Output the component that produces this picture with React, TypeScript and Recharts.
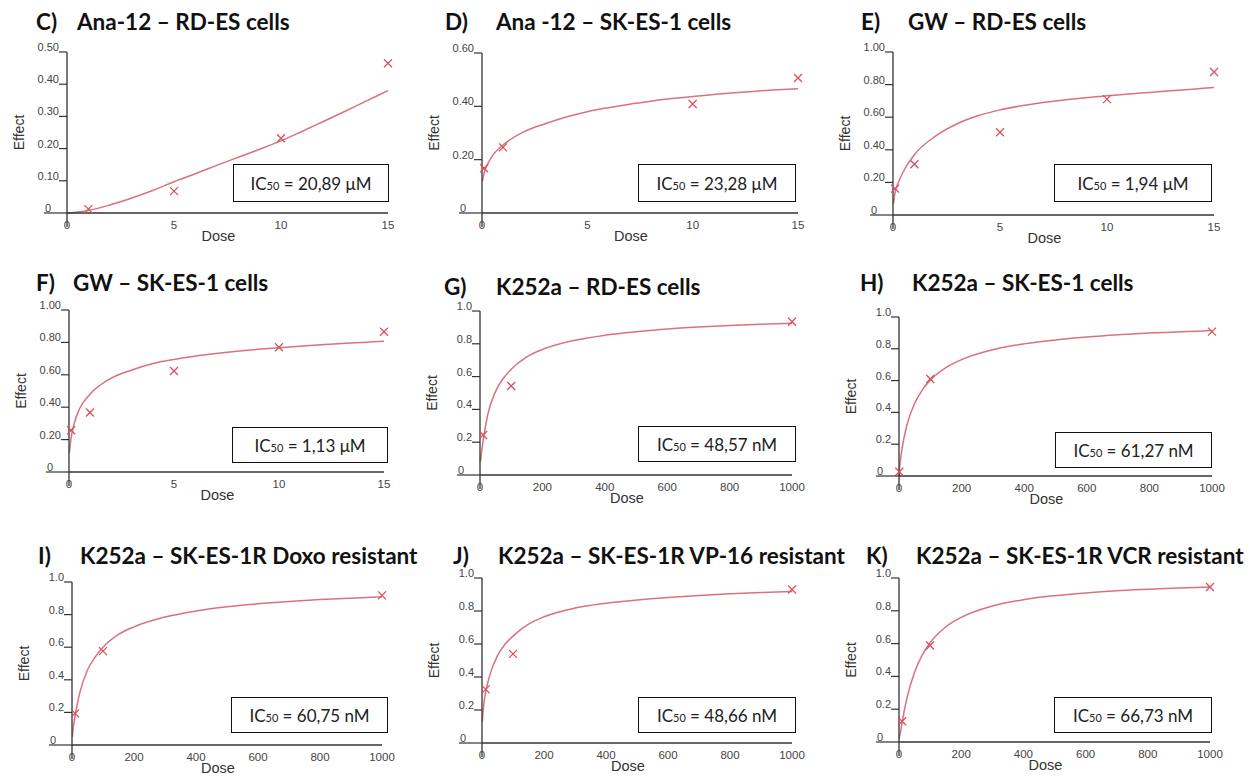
import React from 'react'
import { ComposedChart, Line, Scatter, XAxis, YAxis } from 'recharts'

const curveC = [[0, 0], [1, 0.008], [2, 0.025], [3, 0.046], [4, 0.07], [5, 0.097], [6, 0.122], [7, 0.148], [8, 0.173], [9, 0.198], [10, 0.224], [11, 0.254], [12, 0.285], [13, 0.316], [14, 0.348], [15, 0.38]]
const pointsC = [[1, 0.012], [5, 0.068], [10, 0.232], [15, 0.465]]

const curveD = [[0.02, 0.12], [0.1, 0.15], [0.25, 0.18], [0.5, 0.215], [1, 0.255], [2, 0.305], [3, 0.335], [4, 0.36], [5, 0.38], [6, 0.395], [7, 0.408], [8, 0.419], [9, 0.429], [10, 0.437], [11, 0.444], [12, 0.451], [13, 0.457], [14, 0.462], [15, 0.466]]
const pointsD = [[0.1, 0.168], [1, 0.246], [10, 0.409], [15, 0.506]]

const curveE = [[0.02, 0.07], [0.1, 0.14], [0.25, 0.2], [0.5, 0.27], [1, 0.37], [2, 0.485], [3, 0.56], [4, 0.61], [5, 0.645], [6, 0.67], [7, 0.69], [8, 0.706], [9, 0.72], [10, 0.731], [11, 0.742], [12, 0.752], [13, 0.762], [14, 0.772], [15, 0.782]]
const pointsE = [[0.1, 0.162], [1, 0.311], [5, 0.508], [10, 0.711], [15, 0.877]]

const curveF = [[0.02, 0.12], [0.1, 0.21], [0.25, 0.3], [0.5, 0.39], [1, 0.48], [2, 0.578], [3, 0.63], [4, 0.67], [5, 0.695], [6, 0.715], [7, 0.731], [8, 0.745], [9, 0.757], [10, 0.767], [11, 0.776], [12, 0.785], [13, 0.793], [14, 0.8], [15, 0.807]]
const pointsF = [[0.1, 0.258], [1, 0.367], [5, 0.623], [10, 0.77], [15, 0.866]]

const curveG = [[1, 0.08], [5, 0.14], [10, 0.21], [25, 0.37], [50, 0.51], [75, 0.59], [100, 0.645], [150, 0.72], [200, 0.765], [300, 0.82], [400, 0.852], [500, 0.873], [600, 0.89], [700, 0.902], [800, 0.911], [900, 0.919], [1000, 0.925]]
const pointsG = [[10, 0.244], [100, 0.543], [1000, 0.934]]

const curveH = [[0, 0], [1, 0.03], [5, 0.106], [10, 0.176], [25, 0.318], [50, 0.457], [75, 0.543], [100, 0.603], [150, 0.682], [200, 0.732], [300, 0.794], [400, 0.831], [500, 0.856], [600, 0.874], [700, 0.888], [800, 0.899], [900, 0.907], [1000, 0.915]]
const pointsH = [[1, 0.027], [100, 0.61], [1000, 0.908]]

const curveI = [[1, 0.05], [5, 0.12], [10, 0.18], [25, 0.32], [50, 0.46], [75, 0.54], [100, 0.6], [150, 0.678], [200, 0.725], [300, 0.785], [400, 0.822], [500, 0.848], [600, 0.866], [700, 0.88], [800, 0.892], [900, 0.901], [1000, 0.909]]
const pointsI = [[10, 0.194], [100, 0.576], [1000, 0.918]]

const curveJ = [[1, 0.13], [5, 0.22], [10, 0.29], [25, 0.41], [50, 0.53], [75, 0.6], [100, 0.648], [150, 0.72], [200, 0.765], [300, 0.818], [400, 0.847], [500, 0.867], [600, 0.882], [700, 0.894], [800, 0.904], [900, 0.912], [1000, 0.918]]
const pointsJ = [[12, 0.325], [100, 0.54], [1000, 0.93]]

const curveK = [[0, 0.02], [5, 0.062], [10, 0.12], [25, 0.263], [50, 0.425], [75, 0.531], [100, 0.605], [150, 0.701], [200, 0.76], [300, 0.829], [400, 0.868], [500, 0.892], [600, 0.909], [700, 0.922], [800, 0.931], [900, 0.939], [1000, 0.945]]
const pointsK = [[10, 0.127], [100, 0.588], [1000, 0.945]]

const letters = ['C)', 'D)', 'E)', 'F)', 'G)', 'H)', 'I)', 'J)', 'K)']
const titles = [
    'Ana-12 – RD-ES cells',
    'Ana -12 – SK-ES-1 cells',
    'GW – RD-ES cells',
    'GW – SK-ES-1 cells',
    'K252a – RD-ES cells',
    'K252a – SK-ES-1 cells',
    'K252a – SK-ES-1R Doxo resistant',
    'K252a – SK-ES-1R VP-16 resistant',
    'K252a – SK-ES-1R VCR resistant',
]
const ic50Values = ['20,89 μM', '23,28 μM', '1,94 μM', '1,13 μM', '48,57 nM', '61,27 nM', '60,75 nM', '48,66 nM', '66,73 nM']

const microTicksX = [0, 5, 10, 15]
const nanoTicksX = [0, 200, 400, 600, 800, 1000]
const ticksC = [0, 0.1, 0.2, 0.3, 0.4, 0.5]
const ticksD = [0, 0.2, 0.4, 0.6]
const ticksTenth = [0, 0.2, 0.4, 0.6, 0.8, 1.0]

const curves = [curveC, curveD, curveE, curveF, curveG, curveH, curveI, curveJ, curveK]
const points = [pointsC, pointsD, pointsE, pointsF, pointsG, pointsH, pointsI, pointsJ, pointsK]

const toRows = (pairs: number[][]) => pairs.map(([dose, effect]) => ({ dose, effect }))

// layout only: plot rect (L,T,R,B), title pos, ic50 box
const layout = [
    { L: 67, T: 52, R: 388, B: 213, ly: 22, lx: 36, tx: 77, box: [233, 164, 156, 38], xTicks: microTicksX, yTicks: ticksC, dec: 2 },
    { L: 482, T: 53, R: 798, B: 213, ly: 22, lx: 445, tx: 496, box: [638, 164, 158, 38], xTicks: microTicksX, yTicks: ticksD, dec: 2 },
    { L: 893, T: 52, R: 1214, B: 215, ly: 22, lx: 861, tx: 908, box: [1054, 164, 158, 38], xTicks: microTicksX, yTicks: ticksTenth, dec: 2 },
    { L: 69, T: 310, R: 384, B: 472, ly: 283, lx: 36, tx: 73, box: [232, 427, 156, 36], xTicks: microTicksX, yTicks: ticksTenth, dec: 2 },
    { L: 480, T: 311, R: 792, B: 475, ly: 287, lx: 444, tx: 496, box: [638, 426, 158, 36], xTicks: nanoTicksX, yTicks: ticksTenth, dec: 1 },
    { L: 899, T: 317, R: 1212, B: 476, ly: 283, lx: 860, tx: 912, box: [1055, 432, 157, 36], xTicks: nanoTicksX, yTicks: ticksTenth, dec: 1 },
    { L: 72, T: 582, R: 382, B: 745, ly: 556, lx: 38, tx: 80, box: [231, 697, 157, 36], xTicks: nanoTicksX, yTicks: ticksTenth, dec: 1 },
    { L: 482, T: 578, R: 792, B: 743, ly: 556, lx: 453, tx: 498, box: [638, 697, 158, 36], xTicks: nanoTicksX, yTicks: ticksTenth, dec: 1 },
    { L: 899, T: 578, R: 1210, B: 742, ly: 556, lx: 866, tx: 916, box: [1054, 697, 158, 36], xTicks: nanoTicksX, yTicks: ticksTenth, dec: 1 },
]

const axisFont = '"Liberation Sans", Arial, sans-serif'
const titleFont = 'Lato, "Open Sans", sans-serif'
const axisColor = '#333'

const Cross = (props: any) => {
    const { cx, cy } = props
    if (cx == null || cy == null) return null
    const s = 4
    return (
        <path
            d={`M${cx - s},${cy - s}L${cx + s},${cy + s}M${cx - s},${cy + s}L${cx + s},${cy - s}`}
            stroke="#d9505c"
            strokeWidth={1.3}
            fill="none"
        />
    )
}

const makeYTick = (dec: number) => (props: any) => {
    const { x, y, payload } = props
    const v = payload.value
    if (v === 0) {
        return (
            <g>
                <line x1={x - 23} x2={x} y1={y} y2={y} stroke={axisColor} strokeWidth={1.2} />
                <text x={x - 22} y={y - 1} fontSize={11} fill="#444" fontFamily={axisFont}>0</text>
            </g>
        )
    }
    return (
        <g>
            <line x1={x - 8} x2={x} y1={y} y2={y} stroke={axisColor} strokeWidth={1.2} />
            <text x={x - 8} y={y - 1} fontSize={11} fill="#444" textAnchor="end" fontFamily={axisFont}>
                {v.toFixed(dec)}
            </text>
        </g>
    )
}

const XTick = (props: any) => {
    const { x, y, payload } = props
    return (
        <g>
            {payload.value === 0 && <line x1={x} x2={x} y1={y} y2={y + 14} stroke={axisColor} strokeWidth={1.3} />}
            <text x={x} y={y + 16} fontSize={11.5} fill="#444" textAnchor="middle" fontFamily={axisFont}>
                {payload.value}
            </text>
        </g>
    )
}

const titleStyle = {
    position: 'absolute' as const, transform: 'translateY(-50%)', fontFamily: titleFont, fontWeight: 700,
    fontSize: 22.5, lineHeight: 0.8, color: '#111', whiteSpace: 'nowrap' as const,
}

function Panel({ i }: { i: number }) {
    const p = layout[i]
    const w = p.R - p.L + 80
    const h = p.B - p.T + 45
    const xMax = p.xTicks[p.xTicks.length - 1]
    const yMax = p.yTicks[p.yTicks.length - 1]
    const [bx, by, bw, bh] = p.box
    return (
        <>
            <div style={{ position: 'absolute', left: p.L - 60, top: p.T - 10 }}>
                <ComposedChart width={w} height={h} margin={{ top: 10, right: 20, left: 0, bottom: 0 }}>
                    <XAxis
                        type="number"
                        dataKey="dose"
                        domain={[0, xMax]}
                        ticks={p.xTicks}
                        interval={0}
                        height={35}
                        tickLine={false}
                        tickSize={0}
                        tickMargin={0}
                        axisLine={{ stroke: axisColor, strokeWidth: 1.3 }}
                        tick={XTick}
                        label={(lp: any) => {
                            const vb = lp.viewBox
                            return (
                                <text x={vb.x + vb.width / 2 - 9} y={vb.y + 28} textAnchor="middle" fontSize={14.5} fill="#333" fontFamily={axisFont}>
                                    Dose
                                </text>
                            )
                        }}
                    />
                    <YAxis
                        type="number"
                        dataKey="effect"
                        domain={[0, yMax]}
                        ticks={p.yTicks}
                        interval={0}
                        width={60}
                        tickLine={false}
                        tickSize={0}
                        tickMargin={0}
                        axisLine={{ stroke: axisColor, strokeWidth: 1.3 }}
                        tick={makeYTick(p.dec)}
                        label={(lp: any) => {
                            const vb = lp.viewBox
                            const cx = vb.x + 17
                            const cy = vb.y + vb.height / 2
                            return (
                                <text x={cx} y={cy} transform={`rotate(-90, ${cx}, ${cy})`} textAnchor="middle" fontSize={14} fill="#333" fontFamily={axisFont}>
                                    Effect
                                </text>
                            )
                        }}
                    />
                    <Line
                        data={toRows(curves[i])}
                        dataKey="effect"
                        type="monotone"
                        stroke="#d9727f"
                        strokeWidth={1.5}
                        dot={false}
                        activeDot={false}
                        isAnimationActive={false}
                    />
                    <Scatter data={toRows(points[i])} dataKey="effect" shape={Cross} isAnimationActive={false} />
                </ComposedChart>
            </div>
            <div style={{ ...titleStyle, left: p.lx, top: p.ly }}>{letters[i]}</div>
            <div style={{ ...titleStyle, left: p.tx, top: p.ly }}>{titles[i]}</div>
            <div
                style={{
                    position: 'absolute', left: bx, top: by, width: bw, height: bh, boxSizing: 'border-box',
                    border: '1.5px solid #111', background: '#fff', display: 'flex', alignItems: 'center', justifyContent: 'center',
                    fontFamily: titleFont, fontSize: 17, color: '#222', whiteSpace: 'nowrap',
                }}
            >
                <span>IC<span style={{ fontSize: 11 }}>50</span> = {ic50Values[i]}</span>
            </div>
        </>
    )
}

export default function App() {
    return (
        <div style={{ position: 'absolute', left: 0, top: 0, width: 1259, height: 776, background: '#fff', overflow: 'hidden' }}>
            {layout.map((_, i) => <Panel key={i} i={i} />)}
        </div>
    )
}
